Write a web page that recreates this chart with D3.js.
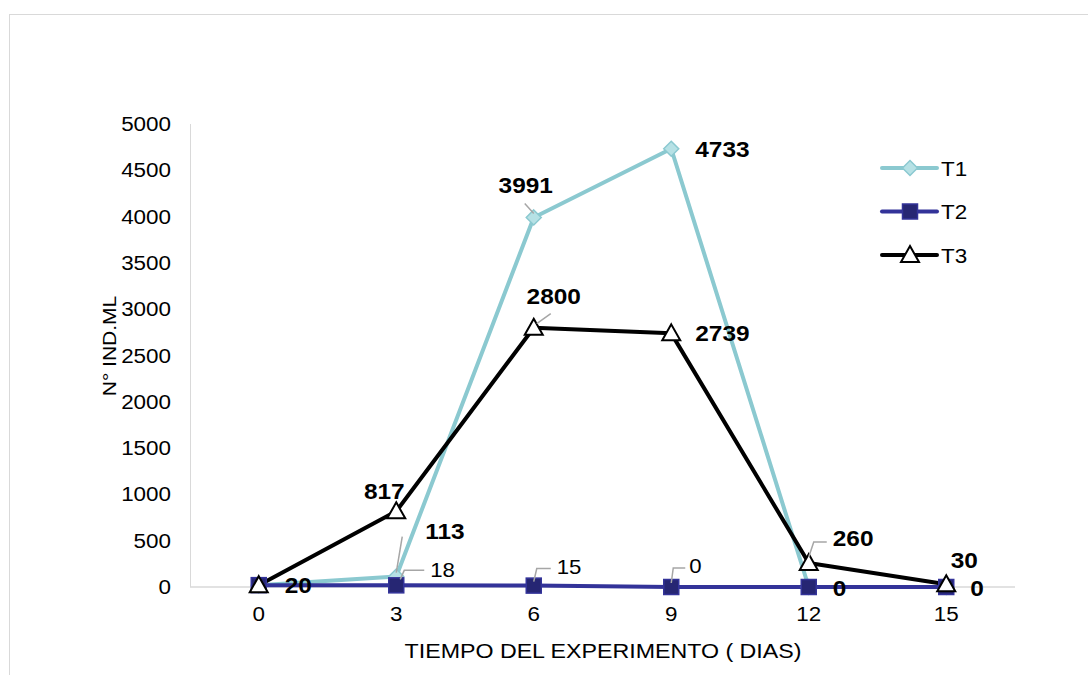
<!DOCTYPE html>
<html>
<head>
<meta charset="utf-8">
<script src="https://cdn.jsdelivr.net/npm/d3@7"></script>
<style>
  body { margin: 0; background: #fff; }
  svg { font-family: "Liberation Sans", Arial, sans-serif; }
</style>
</head>
<body>
<div id="chart"></div>
<script>
var days = ["0", "3", "6", "9", "12", "15"];
var t1 = [20, 113, 3991, 4733, 0, 0];
var t2 = [20, 18, 15, 0, 0, 0];
var t3 = [20, 817, 2800, 2739, 260, 30];
var yTicks = [0, 500, 1000, 1500, 2000, 2500, 3000, 3500, 4000, 4500, 5000];

// label offsets per point (dx, dy from the marker, anchor, optional leader line)
var t1Labels = [
  { dx: 26, dy: 8, anchor: "start" },
  { dx: 29, dy: -38, anchor: "start", leader: [[0, -4], [6, -40]] },
  { dx: -8, dy: -24, anchor: "middle", leader: [[0, -4], [-9, -14]] },
  { dx: 24, dy: 8, anchor: "start" },
  { dx: 24, dy: 9, anchor: "start" },
  { dx: 24, dy: 9, anchor: "start" }
];
var t2Labels = [
  null,
  { dx: 34, dy: -8, anchor: "start", leader: [[4, -6], [8, -15], [28, -15]] },
  { dx: 23, dy: -12, anchor: "start", leader: [[0, -4], [3, -17], [17, -17]] },
  { dx: 18, dy: -14, anchor: "start", leader: [[0, -4], [2, -19], [14, -19]] },
  null,
  null
];
var t3Labels = [
  null,
  { dx: -12, dy: -12, anchor: "middle" },
  { dx: 20, dy: -24, anchor: "middle", leader: [[3, -4], [17, -14]] },
  { dx: 24, dy: 8, anchor: "start" },
  { dx: 24, dy: -17, anchor: "start", leader: [[0, -6], [5, -21], [18, -21]] },
  { dx: 18, dy: -16, anchor: "middle" }
];

var width = 1088, height = 675;
var margin = { top: 124, right: 73, bottom: 88, left: 190 };

var svg = d3.select("#chart").append("svg")
  .attr("width", width)
  .attr("height", height);

// text at (px,py), widened horizontally by sx (source font runs wider)
function wideText(parent, px, py, str, size, sx, anchor, extra) {
  return parent.append("text")
    .attr("transform", "translate(" + px + "," + py + ")" + (extra || "") + " scale(" + sx + ",1)")
    .attr("text-anchor", anchor || "start")
    .attr("font-size", size)
    .attr("fill", "#000")
    .text(str);
}

// chart frame
svg.append("rect")
  .attr("x", 9.5).attr("y", 14.5)
  .attr("width", 1100).attr("height", 700)
  .attr("fill", "none")
  .attr("stroke", "#d9d9d9")
  .attr("stroke-width", 1);

var x = d3.scaleBand()
  .domain(days)
  .range([margin.left, width - margin.right]);

var y = d3.scaleLinear()
  .domain([0, 5000])
  .range([height - margin.bottom, margin.top]);

function cx(i) { return x(days[i]) + x.bandwidth() / 2; }

// y axis line
svg.append("line")
  .attr("x1", margin.left + 0.5).attr("x2", margin.left + 0.5)
  .attr("y1", y(5000)).attr("y2", y(0))
  .attr("stroke", "#d9d9d9");

yTicks.forEach(function(t) {
  wideText(svg, 171, y(t) + 7, d3.format("d")(t), 19.5, 1.15, "end");
});

// x axis line
svg.append("line")
  .attr("x1", margin.left).attr("x2", width - margin.right)
  .attr("y1", y(0)).attr("y2", y(0))
  .attr("stroke", "#d9d9d9")
  .attr("stroke-width", 1.5);

days.forEach(function(d, i) {
  wideText(svg, cx(i), 620.5, d, 19.5, 1.15, "middle");
});

// axis titles
wideText(svg, 603, 657.5, "TIEMPO DEL EXPERIMENTO ( DIAS)", 19.5, 1.19, "middle");

wideText(svg, 115.5, 346, "N° IND.ML", 17.5, 1.2, "middle", " rotate(-90)");

var line = d3.line()
  .x(function(d, i) { return cx(i); })
  .y(function(d) { return y(d); });

var series = [
  { name: "T1", values: t1, color: "#8bc9d0", fill: "#b6e1e5", shape: "diamond", labels: t1Labels, bold: true },
  { name: "T2", values: t2, color: "#333399", fill: "#262673", shape: "square", labels: t2Labels, bold: false },
  { name: "T3", values: t3, color: "#000000", fill: "#ffffff", shape: "triangle", labels: t3Labels, bold: true }
];

function marker(g, shape, color, fill) {
  if (shape === "diamond") {
    g.append("path").attr("d", "M0,-7.5L7.5,0L0,7.5L-7.5,0Z")
      .attr("fill", fill).attr("stroke", color).attr("stroke-width", 1.5);
  } else if (shape === "square") {
    g.append("rect").attr("x", -7.5).attr("y", -7.5).attr("width", 15).attr("height", 15)
      .attr("fill", fill).attr("stroke", color).attr("stroke-width", 1.5);
  } else {
    g.append("path").attr("d", "M0,-9L9,7L-9,7Z")
      .attr("fill", fill).attr("stroke", color).attr("stroke-width", 2);
  }
}

series.forEach(function(s) {
  svg.append("path")
    .datum(s.values)
    .attr("fill", "none")
    .attr("stroke", s.color)
    .attr("stroke-width", 4)
    .attr("stroke-linejoin", "round")
    .attr("d", line);
});

series.forEach(function(s) {
  s.values.forEach(function(v, i) {
    var g = svg.append("g").attr("transform", "translate(" + cx(i) + "," + y(v) + ")");
    marker(g, s.shape, s.color, s.fill);
  });
});

// data labels
series.forEach(function(s) {
  s.values.forEach(function(v, i) {
    var lab = s.labels[i];
    if (!lab) return;
    var px = cx(i), py = y(v);
    if (lab.leader) {
      svg.append("path")
        .attr("d", d3.line()(lab.leader.map(function(p) { return [px + p[0], py + p[1]]; })))
        .attr("fill", "none")
        .attr("stroke", "#a6a6a6")
        .attr("stroke-width", 1.5);
    }
    wideText(svg, px + lab.dx, py + lab.dy, v, s.bold ? 22 : 20, 1.11, lab.anchor)
      .attr("font-weight", s.bold ? "bold" : "normal");
  });
});

// legend
var legend = svg.append("g").attr("transform", "translate(882,168)");
series.forEach(function(s, i) {
  var g = legend.append("g").attr("transform", "translate(0," + (i * 43.5) + ")");
  g.append("line").attr("x1", 0).attr("x2", 55)
    .attr("stroke", s.color).attr("stroke-width", 4).attr("stroke-linecap", "round");
  var m = g.append("g").attr("transform", "translate(28,0)");
  marker(m, s.shape, s.color, s.fill);
  wideText(g, 59, 7.5, s.name, 19.5, 1.15, "start");
});
</script>
</body>
</html>
